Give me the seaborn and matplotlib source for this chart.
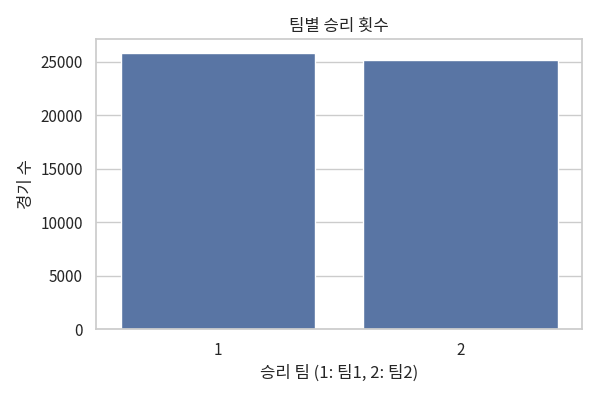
import pandas as pd
import matplotlib
matplotlib.use("Agg")
import matplotlib.pyplot as plt
import seaborn as sns

# 데이터
승리팀 = [1, 2]
경기수 = [25790, 25130]

sns.set_theme(style="whitegrid")
plt.rcParams['font.family'] = ['Noto Sans CJK KR', 'DejaVu Sans']
plt.rcParams['axes.unicode_minus'] = False

df = pd.DataFrame({'winner': 승리팀, 'count': 경기수})

fig, ax = plt.subplots(figsize=(6, 4), dpi=100)
sns.barplot(x='winner', y='count', data=df, color='#4c72b0', ax=ax)
ax.set_title('팀별 승리 횟수')
ax.set_xlabel('승리 팀 (1: 팀1, 2: 팀2)')
ax.set_ylabel('경기 수')
plt.tight_layout()
plt.savefig('out.png')
